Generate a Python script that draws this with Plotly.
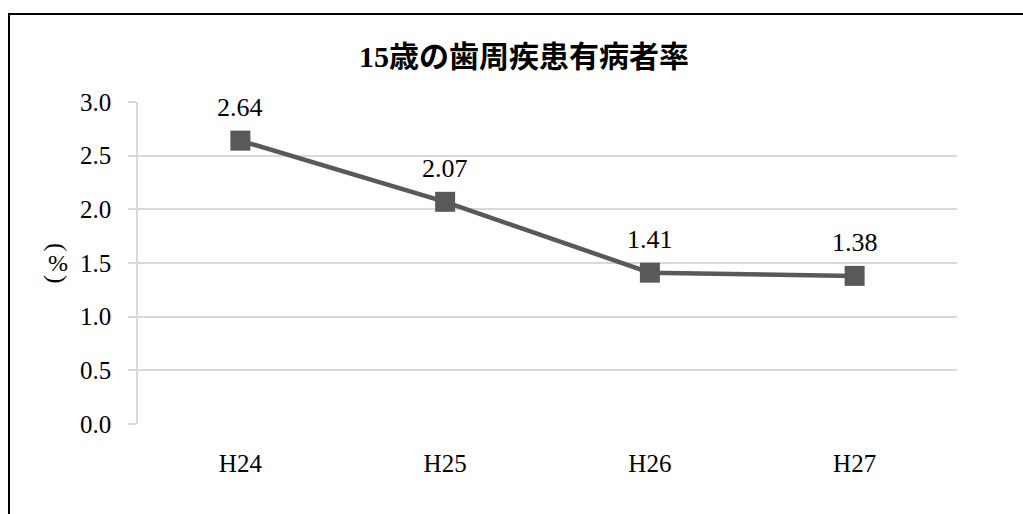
import plotly.graph_objects as go

# Periodontal disease prevalence among 15-year-olds
years = ["H24", "H25", "H26", "H27"]
rates = [2.64, 2.07, 1.41, 1.38]
y_ticks = [0.0, 0.5, 1.0, 1.5, 2.0, 2.5, 3.0]
y_tick_text = ["0.0", "0.5", "1.0", "1.5", "2.0", "2.5", "3.0"]

W, H = 1023, 514
M_L, M_R, M_T, M_B = 138, 66, 102, 90
PW, PH = W - M_L - M_R, H - M_T - M_B

SERIF = "Liberation Serif, 'Noto Sans CJK JP', serif"
LINE_COLOR = "#595959"
GRID_COLOR = "#d9d9d9"


def px_x(px):
    return (px - M_L) / PW


def px_y(py):
    return (H - M_B - py) / PH


fig = go.Figure()
fig.add_trace(go.Scatter(
    x=years,
    y=rates,
    mode="lines+markers",
    line=dict(color=LINE_COLOR, width=4.5),
    marker=dict(symbol="square", size=20, color=LINE_COLOR),
    cliponaxis=False,
    showlegend=False,
))

# Value labels above each point
for yr, v in zip(years, rates):
    fig.add_annotation(
        x=yr, y=v, text=f"{v:.2f}",
        xanchor="center", yanchor="middle", yshift=33,
        showarrow=False,
        font=dict(family=SERIF, size=26, color="#000000"),
    )

fig.update_layout(
    width=W,
    height=H,
    margin=dict(l=M_L, r=M_R, t=M_T, b=M_B),
    paper_bgcolor="#ffffff",
    plot_bgcolor="#ffffff",
    title=dict(
        text="<b>15歳の歯周疾患有病者率</b>",
        font=dict(family=SERIF, size=30, color="#000000"),
        x=px_x(524),
        xanchor="center",
        xref="paper",
        y=1 - 56 / H,
        yanchor="middle",
    ),
    xaxis=dict(
        type="category",
        range=[-0.5, 3.5],
        showgrid=False,
        showline=False,
        ticks="",
        tickfont=dict(family=SERIF, size=25, color="#000000"),
        ticklabelstandoff=22,
        zeroline=False,
    ),
    yaxis=dict(
        range=[0, 3],
        tickvals=y_ticks,
        ticktext=y_tick_text,
        showgrid=True,
        gridcolor=GRID_COLOR,
        gridwidth=1.5,
        showline=True,
        linecolor=GRID_COLOR,
        linewidth=1.5,
        ticks="outside",
        ticklen=8,
        tickcolor=GRID_COLOR,
        tickwidth=1.5,
        tickfont=dict(family=SERIF, size=25, color="#000000"),
        ticklabelstandoff=12,
        zeroline=False,
    ),
)

# Vertical "(%)" axis label: parentheses turned on their side, percent upright
for glyph, py, angle, size in [("(", 247, 90, 26), ("%", 263, 0, 24), (")", 279, 90, 26)]:
    fig.add_annotation(
        text=glyph,
        xref="paper", yref="paper",
        x=px_x(58), y=px_y(py),
        xanchor="center", yanchor="middle",
        textangle=angle,
        showarrow=False,
        font=dict(family=SERIF, size=size, color="#000000"),
    )

# Chart frame (top and left edges)
fig.add_shape(type="line", xref="paper", yref="paper",
              x0=px_x(8), x1=px_x(1030), y0=px_y(14), y1=px_y(14),
              line=dict(color="#000000", width=2))
fig.add_shape(type="line", xref="paper", yref="paper",
              x0=px_x(9), x1=px_x(9), y0=px_y(14), y1=px_y(520),
              line=dict(color="#000000", width=2))

fig.write_html("out.html")
